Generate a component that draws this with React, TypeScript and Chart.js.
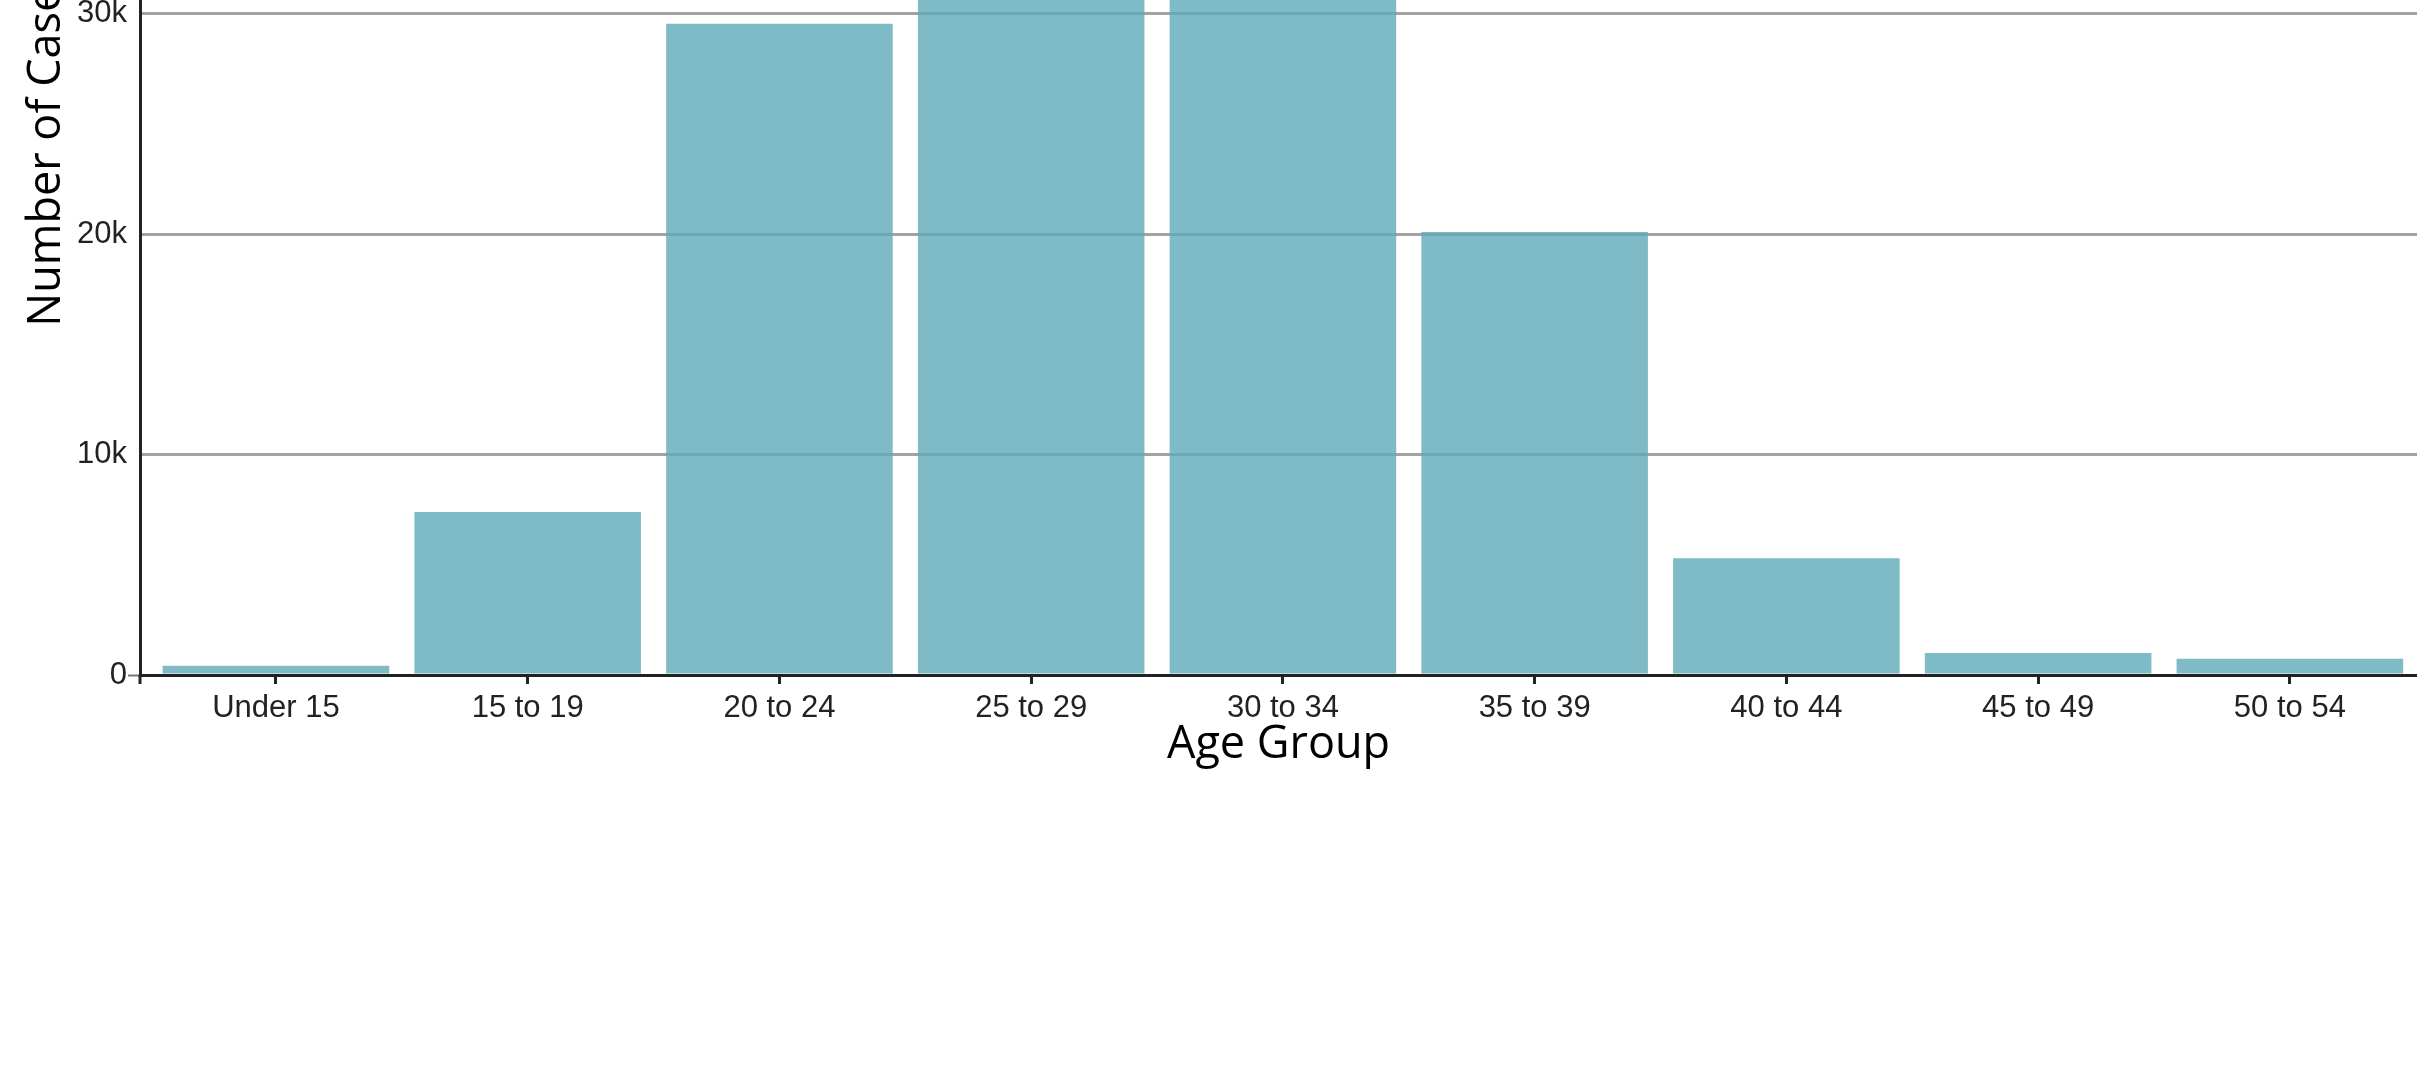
import { useEffect, useRef } from 'react';
import { Chart, registerables } from 'chart.js';

Chart.register(...registerables);

const categories = ['Under 15', '15 to 19', '20 to 24', '25 to 29', '30 to 34', '35 to 39', '40 to 44', '45 to 49', '50 to 54'];
const cases = [420, 7400, 29550, 35000, 34000, 20100, 5300, 1000, 740];
const yTickValues = [0, 10000, 20000, 30000, 40000];
const yTickLabels = ['0', '10k', '20k', '30k', '40k'];

const X_MIN = -0.54;
const X_MAX = 8.505;
const Y_MAX = 48000;

const axisCornerTick = {
  id: 'axisCornerTick',
  afterDraw(chart: any) {
    const { ctx, chartArea } = chart;
    ctx.save();
    ctx.strokeStyle = '#222';
    ctx.lineWidth = 3;
    ctx.beginPath();
    ctx.moveTo(chartArea.left, chartArea.bottom);
    ctx.lineTo(chartArea.left, chartArea.bottom + 9);
    ctx.stroke();
    ctx.restore();
  },
};

export default function App() {
  const canvasRef = useRef<HTMLCanvasElement | null>(null);

  useEffect(() => {
    document.body.style.margin = '0';
    document.body.style.overflow = 'hidden';
    const canvas = canvasRef.current;
    if (!canvas) return;
    const chart = new Chart(canvas, {
      type: 'bar',
      data: {
        datasets: [
          {
            label: 'Number of Cases',
            data: cases.map((v, i) => ({ x: i, y: v })),
            backgroundColor: 'rgba(95,170,184,0.8)',
            borderWidth: 0,
            categoryPercentage: 0.9,
            barPercentage: 1.0,
          },
        ],
      },
      plugins: [axisCornerTick],
      options: {
        animation: false,
        responsive: true,
        maintainAspectRatio: false,
        layout: { padding: { top: 40, left: 0, right: 0, bottom: 0 } },
        plugins: { legend: { display: false }, tooltip: { enabled: false } },
        scales: {
          x: {
            type: 'linear',
            offset: false,
            min: X_MIN,
            max: X_MAX,
            afterBuildTicks: (scale: any) => {
              scale.ticks = categories.map((_, i) => ({ value: i }));
            },
            afterFit: (scale: any) => {
              scale.height = 399;
            },
            ticks: {
              autoSkip: false,
              maxRotation: 0,
              minRotation: 0,
              padding: 6,
              color: '#222',
              font: { family: 'Liberation Sans', size: 31 },
              callback: (v: any) => (Number.isInteger(v) && categories[v] !== undefined ? categories[v] : ''),
            },
            grid: {
              display: true,
              offset: false,
              drawOnChartArea: false,
              drawTicks: true,
              tickLength: 9,
              color: '#222',
              lineWidth: 3,
            },
            border: { display: true, color: '#222', width: 3 },
            title: {
              display: true,
              text: 'Age Group',
              color: '#000',
              font: { family: 'Open Sans', size: 45 },
              padding: { top: 0, bottom: 302 },
            },
          },
          y: {
            type: 'linear',
            min: 0,
            max: Y_MAX,
            afterBuildTicks: (scale: any) => {
              scale.ticks = yTickValues.map((v) => ({ value: v }));
            },
            afterFit: (scale: any) => {
              scale.width = 140;
            },
            ticks: {
              padding: 1,
              color: '#222',
              font: { family: 'Liberation Sans', size: 31 },
              callback: (v: any) => {
                const idx = yTickValues.indexOf(Number(v));
                return idx >= 0 ? yTickLabels[idx] : '';
              },
            },
            grid: {
              drawTicks: true,
              tickLength: 12,
              tickWidth: 2,
              tickColor: (c: any) => (c.tick && c.tick.value === 0 ? '#777' : 'rgba(0,0,0,0)'),
              color: '#a3a3a3',
              lineWidth: 3,
            },
            border: { display: true, color: '#222', width: 3 },
            title: {
              display: true,
              text: 'Number of Cases',
              color: '#000',
              font: { family: 'Open Sans', size: 45 },
              padding: { top: 20, bottom: 0 },
            },
          },
        },
      },
    });
    return () => chart.destroy();
  }, []);

  return (
    <div style={{ position: 'relative', width: 2417, height: 1074, overflow: 'hidden', background: '#fff' }}>
      <div style={{ position: 'absolute', left: 0, top: -423, width: 2417, height: 1497 }}>
        <canvas ref={canvasRef} />
      </div>
    </div>
  );
}
